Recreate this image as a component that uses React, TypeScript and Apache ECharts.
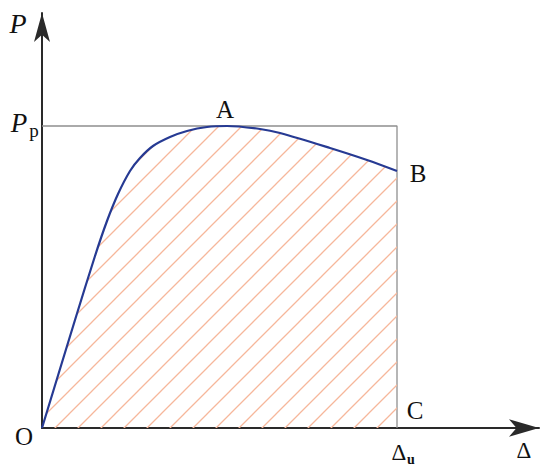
import React, { useEffect, useRef } from "react";
import * as echarts from "echarts";

const deltaValues = [0, 33, 53, 65, 76, 88, 98, 111, 128, 145, 165, 185, 218, 238, 288, 325, 355];
const loadValues = [0, 108, 172, 207, 234, 257, 270, 282, 291, 297, 301, 302, 299, 295, 280, 268, 257];
const peakLoad = 302;
const ultimateDelta = 355;

const SERIF = "'Liberation Serif', 'Times New Roman', serif";

function makeHatch(): HTMLCanvasElement {
  const s = 23;
  const c = document.createElement("canvas");
  c.width = s;
  c.height = s;
  const ctx = c.getContext("2d")!;
  ctx.strokeStyle = "#f6b79b";
  ctx.lineWidth = 1.3;
  ctx.beginPath();
  ctx.moveTo(-2, s + 2);
  ctx.lineTo(s + 2, -2);
  ctx.moveTo(-2, 2);
  ctx.lineTo(2, -2);
  ctx.moveTo(s - 2, s + 2);
  ctx.lineTo(s + 2, s - 2);
  ctx.stroke();
  return c;
}

export default function App() {
  const ref = useRef<HTMLDivElement>(null);
  useEffect(() => {
    if (!ref.current) return;
    document.body.style.margin = "0";
    const chart = echarts.init(ref.current, null, { renderer: "svg" });
    const hatch = makeHatch();
    const curve = deltaValues.map((d, i) => [d, loadValues[i]]);
    const frame = [
      [0, peakLoad],
      [ultimateDelta, peakLoad],
      [ultimateDelta, 0],
    ];
    const txt = (x: number, y: number, text: string, size: number, extra: any = {}) => ({
      type: "text",
      x,
      y,
      style: {
        text,
        fontFamily: SERIF,
        fontSize: size,
        fill: "#111",
        align: "center",
        verticalAlign: "middle",
        ...extra,
      },
    });
    chart.setOption({
      animation: false,
      backgroundColor: "#fff",
      grid: { left: 42, top: 13, width: 497, height: 415 },
      xAxis: {
        type: "value",
        min: 0,
        max: 497,
        axisLine: {
          lineStyle: { color: "#2a2a2a", width: 2 },
          symbol: ["none", "arrow"],
          symbolSize: [13, 30],
        },
        axisTick: { show: false },
        axisLabel: { show: false },
        splitLine: { show: false },
      },
      yAxis: {
        type: "value",
        min: 0,
        max: 415,
        axisLine: {
          lineStyle: { color: "#2a2a2a", width: 2 },
          symbol: ["none", "arrow"],
          symbolSize: [12, 29],
        },
        axisTick: { show: false },
        axisLabel: { show: false },
        splitLine: { show: false },
      },
      series: [
        {
          type: "line",
          data: frame,
          symbol: "none",
          lineStyle: { color: "#8f8f8f", width: 1.3 },
          z: 1,
        },
        {
          type: "line",
          data: curve,
          symbol: "none",
          smooth: 0.3,
          lineStyle: { color: "#263a93", width: 2.2 },
          areaStyle: {
            color: { image: hatch, repeat: "repeat", imageWidth: 23, imageHeight: 23 } as any,
            opacity: 1,
          },
          z: 2,
        },
      ],
      graphic: [
        txt(18, 23, "P", 28, { fontStyle: "italic" }),
        txt(19, 123, "P", 27, { fontStyle: "italic" }),
        txt(34, 130, "p", 19),
        txt(24, 436, "O", 25),
        txt(225, 109, "A", 25),
        txt(418, 173, "B", 25),
        txt(415, 410, "C", 25),
        txt(399, 452, "Δ", 23),
        txt(411, 459, "u", 14, { fontWeight: "bold" }),
        txt(524, 450, "Δ", 23),
      ],
    });
    return () => chart.dispose();
  }, []);
  return <div ref={ref} style={{ width: 550, height: 471 }} />;
}
